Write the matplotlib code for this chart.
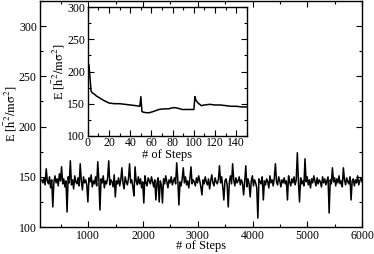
"""Energy vs steps with inset of the first 150 steps."""
import numpy as np
import matplotlib
matplotlib.use('Agg')
import matplotlib.pyplot as plt
from matplotlib.ticker import MultipleLocator

plt.rcParams['font.family'] = ['Liberation Serif', 'DejaVu Serif']
plt.rcParams['mathtext.fontset'] = 'stix'

# main run, energy every ~20 steps from 150 to 6000
energy = [
    147, 144, 149, 142, 158, 146, 143, 150, 139, 147, 120, 145, 151, 144, 148, 141, 153, 146, 160, 143,
    148, 140, 146, 115, 150, 144, 166, 142, 147, 138, 151, 145, 143, 149, 141, 163, 146, 137, 150, 144,
    147, 142, 125, 149, 145, 152, 140, 146, 143, 150, 141, 165, 147, 117, 148, 144, 151, 139, 146, 143,
    149, 166, 142, 147, 145, 140, 152, 130, 146, 143, 149, 141, 147, 159, 144, 138, 150, 145, 142, 148,
    163, 144, 147, 140, 131, 160, 146, 142, 150, 143, 148, 139, 145, 124, 151, 144, 141, 149, 146, 143,
    150, 145, 140, 147, 127, 144, 149, 125, 146, 142, 124, 148, 143, 151, 145, 139, 147, 144, 150, 142,
    146, 149, 143, 164, 147, 122, 145, 141, 148, 159, 144, 150, 142, 146, 139, 148, 160, 143, 147, 145,
    141, 149, 144, 151, 146, 140, 132, 147, 143, 150, 145, 142, 148, 138, 146, 152, 144, 141, 149, 145,
    143, 147, 161, 144, 150, 140, 127, 146, 148, 142, 120, 145, 151, 143, 163, 147, 141, 149, 144, 146,
    150, 142, 147, 144, 132, 145, 161, 140, 148, 143, 130, 146, 151, 141, 147, 144, 139, 109, 148, 145,
    143, 150, 127, 146, 142, 148, 145, 139, 151, 144, 147, 141, 149, 163, 145, 142, 150, 146, 140, 147,
    144, 149, 143, 146, 127, 151, 145, 141, 148, 144, 150, 142, 147, 174, 145, 125, 149, 143, 146, 141,
    168, 145, 150, 142, 147, 139, 148, 144, 151, 146, 141, 149, 143, 147, 145, 140, 150, 144, 148, 142,
    146, 150, 114, 147, 143, 159, 145, 149, 141, 148, 144, 151, 143, 146, 140, 159, 147, 142, 149, 145,
    143, 150, 127, 146, 148, 141, 147, 144, 151, 142, 146, 149, 145,
]
steps = np.linspace(150, 6000, len(energy))

# first 150 steps (inset)
ins_steps = [1, 2, 3, 4, 6, 8, 11, 15, 20, 25, 30, 35, 40, 45, 49, 50, 51, 52, 55, 58,
             62, 67, 72, 76, 81, 85, 89, 93, 97, 100, 101, 102, 104, 107, 110, 115, 120,
             125, 130, 135, 140, 145, 150]
ins_E = [210, 190, 170, 167, 165, 162, 159, 155, 151, 150, 150, 149, 148, 147, 146, 161,
         138, 137, 136, 136, 138, 141, 142, 142, 144, 143, 141, 141, 141, 141, 161, 155,
         151, 147, 148, 149, 148, 148, 147, 146, 146, 145, 145]

ylab = r'E [$\mathrm{\bar{h}^2/m\sigma^2}$]'


def style(ax, fs):
    ax.tick_params(which='both', direction='in', top=True, right=True, labelsize=fs)
    ax.tick_params(which='major', length=4, width=0.8)
    ax.tick_params(which='minor', length=2, width=0.8)
    for s in ax.spines.values():
        s.set_linewidth(1.0)


fig = plt.figure(figsize=(3.74, 2.54), dpi=100)
ax = fig.add_axes([0.106, 0.106, 0.862, 0.890])
ax.plot(steps, energy, color='black', lw=1.1)
ax.set_xlim(110, 6000)
ax.set_ylim(100, 325)
ax.xaxis.set_major_locator(MultipleLocator(1000))
ax.xaxis.set_minor_locator(MultipleLocator(500))
ax.yaxis.set_major_locator(MultipleLocator(50))
ax.yaxis.set_minor_locator(MultipleLocator(25))
ax.set_xlabel('# of Steps', fontsize=9, labelpad=-1)
ax.set_ylabel(ylab, fontsize=9, labelpad=0)
style(ax, 8.5)
ax.tick_params(pad=2)

ins = fig.add_axes([0.235, 0.465, 0.425, 0.507])
ins.plot(ins_steps, ins_E, color='black', lw=1.1)
ins.set_xlim(0, 150)
ins.set_ylim(100, 300)
ins.xaxis.set_major_locator(MultipleLocator(20))
ins.xaxis.set_minor_locator(MultipleLocator(10))
ins.yaxis.set_major_locator(MultipleLocator(50))
ins.yaxis.set_minor_locator(MultipleLocator(25))
ins.set_xlabel('# of Steps', fontsize=9, labelpad=0)
ins.set_ylabel(ylab, fontsize=9, labelpad=0)
style(ins, 8.5)
ins.tick_params(axis='x', pad=1)
ins.tick_params(axis='y', pad=2)

fig.savefig('out.png', dpi=100)
